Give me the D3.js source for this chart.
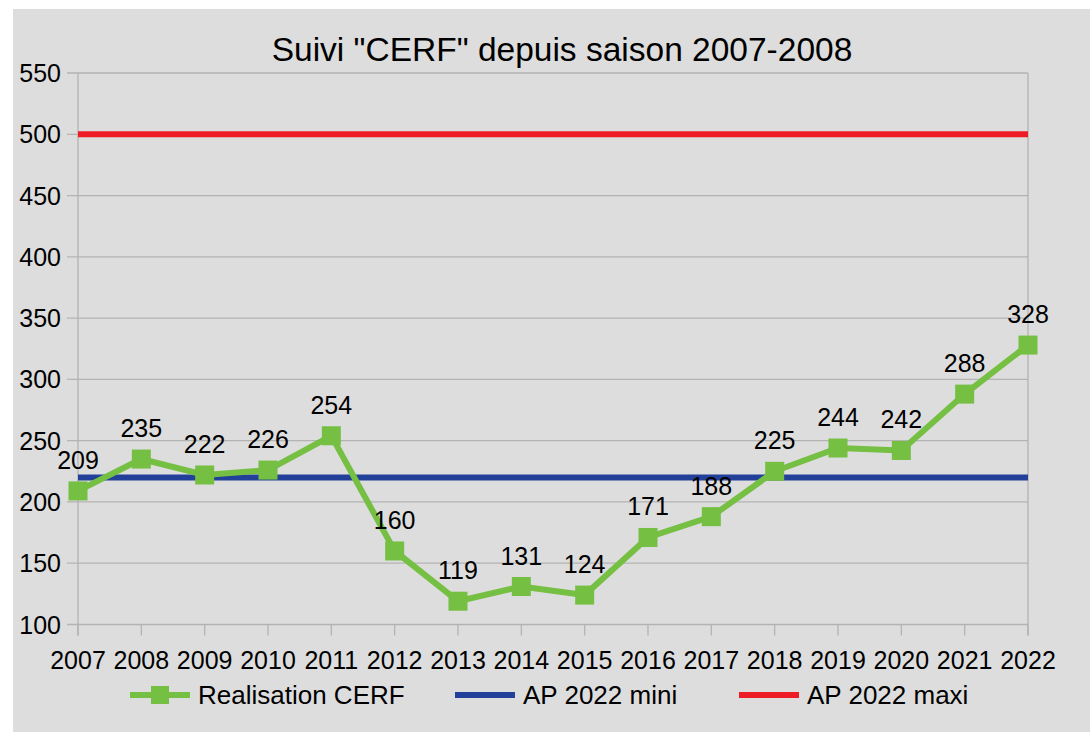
<!DOCTYPE html>
<html>
<head>
<meta charset="utf-8">
<script src="https://cdn.jsdelivr.net/npm/d3@7"></script>
<style>
  body { margin: 0; background: #ffffff; }
  text { font-family: "Liberation Sans", Arial, sans-serif; fill: #000; }
</style>
</head>
<body>
<div id="chart"></div>
<script>
// data
var years = ["2007","2008","2009","2010","2011","2012","2013","2014","2015","2016","2017","2018","2019","2020","2021","2022"];
var realisation = [209,235,222,226,254,160,119,131,124,171,188,225,244,242,288,328];
var apMini = 220;
var apMaxi = 500;
var yTicks = [100,150,200,250,300,350,400,450,500,550];

var width = 1092, height = 732;
var plotLeft = 78, plotRight = 1028, plotTop = 73, plotBottom = 624.5;

var green = "#75bf43", blue = "#22409a", red = "#ee1c25", grid = "#b3b3b3";

var svg = d3.select("#chart").append("svg")
    .attr("width", width)
    .attr("height", height);

// gray background
svg.append("rect")
    .attr("x", 13).attr("y", 9)
    .attr("width", width - 15).attr("height", height - 9)
    .attr("fill", "#dddddd");

var x = d3.scalePoint().domain(years).range([plotLeft, plotRight]);
var y = d3.scaleLinear().domain([100, 550]).range([plotBottom, plotTop]);

// horizontal grid
svg.append("g").selectAll("line")
    .data(yTicks)
    .enter().append("line")
    .attr("x1", plotLeft - 11).attr("x2", plotRight)
    .attr("y1", d => y(d)).attr("y2", d => y(d))
    .attr("stroke", grid).attr("stroke-width", 1.3);

// left axis line and right border
svg.append("line").attr("x1", plotLeft).attr("x2", plotLeft).attr("y1", plotTop).attr("y2", plotBottom + 11)
    .attr("stroke", grid).attr("stroke-width", 1.3);
svg.append("line").attr("x1", plotRight).attr("x2", plotRight).attr("y1", plotTop).attr("y2", plotBottom + 11)
    .attr("stroke", grid).attr("stroke-width", 1.3);

// x tick marks
svg.append("g").selectAll("line")
    .data(years)
    .enter().append("line")
    .attr("x1", d => x(d)).attr("x2", d => x(d))
    .attr("y1", plotBottom).attr("y2", plotBottom + 11)
    .attr("stroke", grid).attr("stroke-width", 1.3);

// y labels
svg.append("g").selectAll("text")
    .data(yTicks)
    .enter().append("text")
    .attr("x", 61).attr("y", d => y(d) + 9)
    .attr("text-anchor", "end")
    .style("font-size", "25px")
    .text(d => d);

// x labels
svg.append("g").selectAll("text")
    .data(years)
    .enter().append("text")
    .attr("x", d => x(d)).attr("y", 669)
    .attr("text-anchor", "middle")
    .style("font-size", "25px")
    .text(d => d);

// title
svg.append("text")
    .attr("x", 562).attr("y", 61)
    .attr("text-anchor", "middle")
    .style("font-size", "33.5px")
    .text('Suivi "CERF" depuis saison 2007-2008');

// reference lines
svg.append("line").attr("x1", plotLeft).attr("x2", plotRight)
    .attr("y1", y(apMaxi)).attr("y2", y(apMaxi))
    .attr("stroke", red).attr("stroke-width", 6);
svg.append("line").attr("x1", plotLeft).attr("x2", plotRight)
    .attr("y1", y(apMini)).attr("y2", y(apMini))
    .attr("stroke", blue).attr("stroke-width", 6);

// realisation line
var line = d3.line().x((d, i) => x(years[i])).y(d => y(d));
svg.append("path")
    .datum(realisation)
    .attr("d", line)
    .attr("fill", "none")
    .attr("stroke", green)
    .attr("stroke-width", 6)
    .attr("stroke-linejoin", "miter");

svg.append("g").selectAll("rect")
    .data(realisation)
    .enter().append("rect")
    .attr("x", (d, i) => x(years[i]) - 9.5)
    .attr("y", d => y(d) - 9.5)
    .attr("width", 19).attr("height", 19)
    .attr("fill", green);

svg.append("g").selectAll("text")
    .data(realisation)
    .enter().append("text")
    .attr("x", (d, i) => x(years[i]))
    .attr("y", d => y(d) - 22)
    .attr("text-anchor", "middle")
    .style("font-size", "25px")
    .text(d => d);

// legend
var legend = [
    {name: "Realisation CERF", color: green, x: 130, marker: true},
    {name: "AP 2022 mini", color: blue, x: 455, marker: false},
    {name: "AP 2022 maxi", color: red, x: 739, marker: false}
];
var lg = svg.append("g").selectAll("g")
    .data(legend)
    .enter().append("g")
    .attr("transform", d => "translate(" + d.x + ",695)");
lg.append("line")
    .attr("x1", 0).attr("x2", 60).attr("y1", 0).attr("y2", 0)
    .attr("stroke", d => d.color).attr("stroke-width", 6);
lg.filter(d => d.marker).append("rect")
    .attr("x", 21).attr("y", -9).attr("width", 18).attr("height", 18)
    .attr("fill", d => d.color);
lg.append("text")
    .attr("x", 68).attr("y", 9)
    .style("font-size", "26px")
    .text(d => d.name);
</script>
</body>
</html>
